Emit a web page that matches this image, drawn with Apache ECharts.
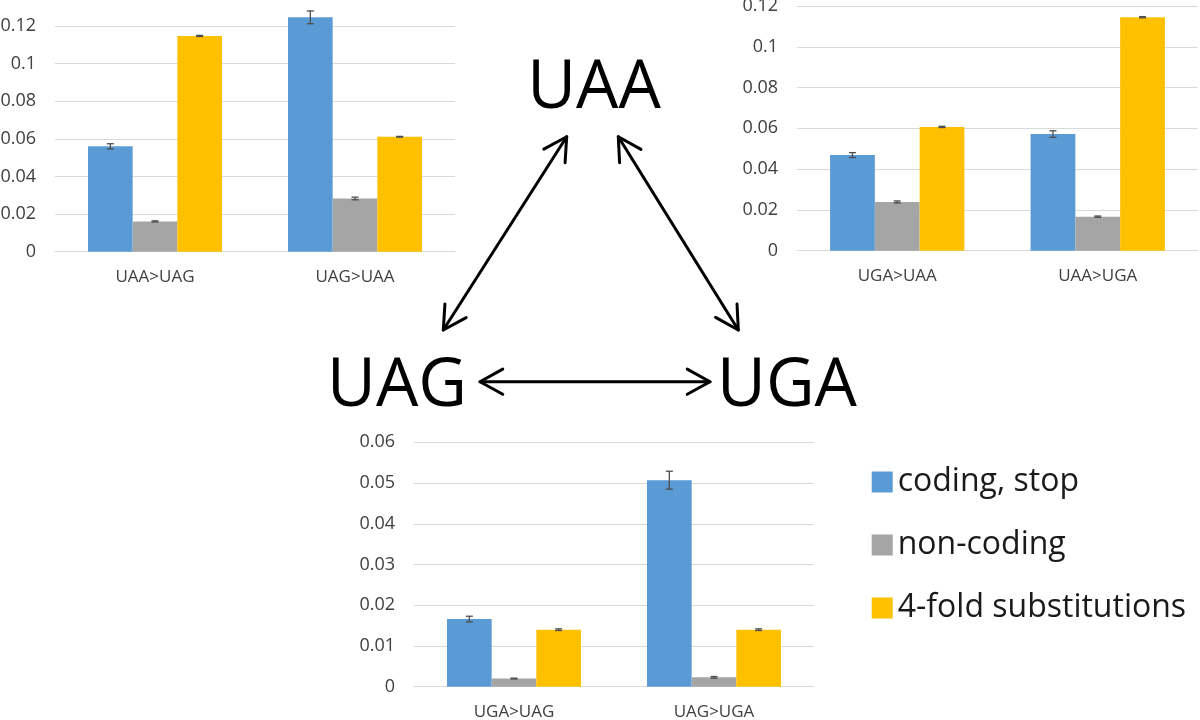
<!DOCTYPE html>
<html>
<head>
<meta charset="utf-8">
<script src="https://cdn.jsdelivr.net/npm/echarts@6/dist/echarts.min.js"></script>
<style>
html,body{margin:0;padding:0;background:#fff;}
#c{width:1200px;height:720px;}
</style>
</head>
<body>
<div id="c"></div>
<script>
// ---- data ----
const seriesNames = ['coding, stop', 'non-coding', '4-fold substitutions'];

const categoriesTL = ['UAA>UAG', 'UAG>UAA'];
const codingTL = [0.0560, 0.1246];
const noncodingTL = [0.0161, 0.0283];
const fourfoldTL = [0.1147, 0.0611];
const codingErrTL = [0.0014, 0.0034];
const noncodingErrTL = [0.0003, 0.0007];
const fourfoldErrTL = [0.0003, 0.0002];

const categoriesTR = ['UGA>UAA', 'UAA>UGA'];
const codingTR = [0.0469, 0.0572];
const noncodingTR = [0.0239, 0.0167];
const fourfoldTR = [0.0607, 0.1145];
const codingErrTR = [0.0012, 0.0016];
const noncodingErrTR = [0.0005, 0.0003];
const fourfoldErrTR = [0.0003, 0.0003];

const categoriesB = ['UGA>UAG', 'UAG>UGA'];
const codingB = [0.0166, 0.0507];
const noncodingB = [0.0020, 0.0023];
const fourfoldB = [0.0140, 0.0140];
const codingErrB = [0.0007, 0.0022];
const noncodingErrB = [0.0001, 0.0002];
const fourfoldErrB = [0.0002, 0.0002];

const ticksTL = [0, 0.02, 0.04, 0.06, 0.08, 0.1, 0.12];
const ticksTR = [0, 0.02, 0.04, 0.06, 0.08, 0.1, 0.12];
const ticksB = [0, 0.01, 0.02, 0.03, 0.04, 0.05, 0.06];

const nodeLabels = ['UAA', 'UAG', 'UGA'];

// ---- styles ----
const colors = ['#5B9BD5', '#A5A5A5', '#FFC000'];
const FONT = '"Open Sans", "Noto Sans", sans-serif';
const BAR_GAP_CAT = 0.33;

const chart = echarts.init(document.getElementById('c'), null, {renderer: 'canvas'});

const panels = [
  {cats: categoriesTL, vals: [codingTL, noncodingTL, fourfoldTL], errs: [codingErrTL, noncodingErrTL, fourfoldErrTL], ticks: ticksTL, max: 0.14, interval: 0.02,
   grid: {left: 55, bottom: 720 - 251.7, width: 400, height: 7 * 37.62}},
  {cats: categoriesTR, vals: [codingTR, noncodingTR, fourfoldTR], errs: [codingErrTR, noncodingErrTR, fourfoldErrTR], ticks: ticksTR, max: 0.12, interval: 0.02,
   grid: {left: 797, top: 6, width: 401, height: 244.7}},
  {cats: categoriesB, vals: [codingB, noncodingB, fourfoldB], errs: [codingErrB, noncodingErrB, fourfoldErrB], ticks: ticksB, max: 0.06, interval: 0.01,
   grid: {left: 414, top: 442.3, width: 400, height: 244.4}}
];

const grids = [], xAxes = [], yAxes = [], series = [];

function renderErr(params, api) {
  const cat = api.value(0), k = api.value(1), v = api.value(2), e = api.value(3);
  const band = api.size([1, 0])[0];
  const bw = band * (1 - BAR_GAP_CAT) / 3;
  const c = api.coord([cat, v]);
  const x = c[0] + (k - 1) * bw;
  const yt = api.coord([cat, v + e])[1];
  const yb = api.coord([cat, v - e])[1];
  const hw = 3.5;
  const st = {stroke: '#4d4d4d', lineWidth: 1.3};
  return {
    type: 'group',
    children: [
      {type: 'line', shape: {x1: x, y1: yt, x2: x, y2: yb}, style: st},
      {type: 'line', shape: {x1: x - hw, y1: yt, x2: x + hw, y2: yt}, style: st},
      {type: 'line', shape: {x1: x - hw, y1: yb, x2: x + hw, y2: yb}, style: st}
    ]
  };
}

panels.forEach((p, gi) => {
  grids.push(Object.assign({containLabel: false, outerBoundsMode: 'none'}, p.grid));
  xAxes.push({
    type: 'category', gridIndex: gi, data: p.cats,
    axisLine: {show: true, lineStyle: {color: '#d9d9d9', width: 1.2}},
    axisTick: {show: false},
    axisLabel: {color: '#404040', fontSize: 17, fontFamily: FONT, margin: 17}
  });
  const tickSet = p.ticks;
  yAxes.push({
    type: 'value', gridIndex: gi, min: 0, max: p.max, interval: p.interval,
    axisLine: {show: false}, axisTick: {show: false},
    splitLine: {lineStyle: {color: '#d9d9d9', width: 1.2}},
    axisLabel: {
      color: '#404040', fontSize: 18, fontFamily: FONT, margin: 19,
      formatter: function (v) {
        const r = Math.round(v * 1000) / 1000;
        return tickSet.some(t => Math.abs(t - r) < 1e-9) ? String(r) : '';
      }
    }
  });
  p.vals.forEach((vals, k) => {
    series.push({
      type: 'bar', name: seriesNames[k], xAxisIndex: gi, yAxisIndex: gi,
      data: vals, barGap: '0%', barCategoryGap: (BAR_GAP_CAT * 100) + '%',
      itemStyle: {color: colors[k]}, animation: false
    });
  });
  const errData = [];
  p.vals.forEach((vals, k) => {
    vals.forEach((v, ci) => errData.push([ci, k, v, p.errs[k][ci]]));
  });
  series.push({
    type: 'custom', name: 'err' + gi, xAxisIndex: gi, yAxisIndex: gi,
    renderItem: renderErr, data: errData, encode: {x: 0, y: 2}, z: 10,
    animation: false, silent: true
  });
});

// arrows (decoration)
function arrow(x1, y1, x2, y2) {
  const L = 26, ang = 29 * Math.PI / 180;
  const st = {stroke: '#000', lineWidth: 3, lineCap: 'round', lineJoin: 'round', fill: null};
  const dx = x2 - x1, dy = y2 - y1, d = Math.hypot(dx, dy);
  const ux = dx / d, uy = dy / d;
  function head(tx, ty, sx, sy) {
    const a1 = [tx + L * (sx * Math.cos(ang) - sy * Math.sin(ang)), ty + L * (sx * Math.sin(ang) + sy * Math.cos(ang))];
    const a2 = [tx + L * (sx * Math.cos(-ang) - sy * Math.sin(-ang)), ty + L * (sx * Math.sin(-ang) + sy * Math.cos(-ang))];
    return {type: 'polyline', shape: {points: [a1, [tx, ty], a2]}, style: st};
  }
  return [
    {type: 'line', shape: {x1: x1, y1: y1, x2: x2, y2: y2}, style: st},
    head(x1, y1, ux, uy),
    head(x2, y2, -ux, -uy)
  ];
}

const graphics = [].concat(
  arrow(566.7, 136.7, 443.3, 330),
  arrow(618.3, 136.7, 738.3, 330),
  arrow(480, 381.7, 710, 381.7),
  [
    {type: 'text', x: 594, y: 89, style: {text: nodeLabels[0], font: '67px ' + FONT, fill: '#000', textAlign: 'center', textVerticalAlign: 'middle'}},
    {type: 'text', x: 397, y: 387, style: {text: nodeLabels[1], font: '67px ' + FONT, fill: '#000', textAlign: 'center', textVerticalAlign: 'middle'}},
    {type: 'text', x: 787, y: 387, style: {text: nodeLabels[2], font: '67px ' + FONT, fill: '#000', textAlign: 'center', textVerticalAlign: 'middle'}}
  ]
);

chart.setOption({
  animation: false,
  backgroundColor: '#ffffff',
  grid: grids,
  xAxis: xAxes,
  yAxis: yAxes,
  legend: {
    data: seriesNames, orient: 'vertical', left: 866.7, top: 461,
    itemWidth: 21, itemHeight: 21, itemGap: 31, icon: 'rect',
    textStyle: {fontSize: 32, fontFamily: FONT, color: '#1a1a1a', padding: [0, 0, 0, 0]}
  },
  series: series,
  graphic: graphics
});
</script>
</body>
</html>
